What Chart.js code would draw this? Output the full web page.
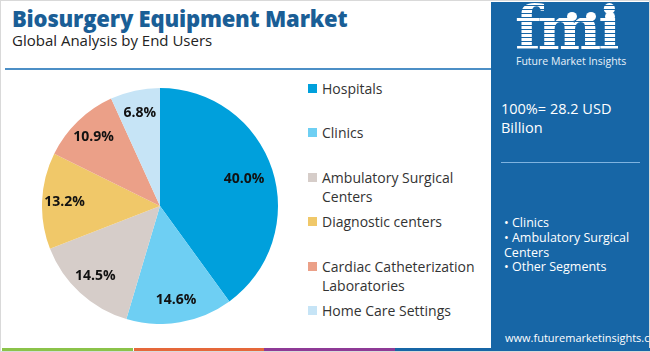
<!DOCTYPE html>
<html><head><meta charset="utf-8">
<script src="https://cdn.jsdelivr.net/npm/chart.js@4"></script>
<style>
html,body{margin:0;padding:0;background:#fff;}
body{width:650px;height:352px;position:relative;overflow:hidden;font-family:"Open Sans",sans-serif;}
#frame{position:absolute;left:0;top:0;width:648px;height:350px;border:1px solid #d9d9d9;}
#title{position:absolute;left:12px;top:3px;font-size:22px;font-weight:800;color:#1a5e96;letter-spacing:-0.2px;white-space:nowrap;}
#sub{position:absolute;left:12px;top:30px;font-size:15px;color:#222;white-space:nowrap;}
#hline{position:absolute;left:5px;top:68px;width:486px;height:2px;background:#4c8fc6;}
#chartwrap{position:absolute;left:42px;top:88px;width:236px;height:236px;}
#legend{position:absolute;left:308px;top:0;}
.li{position:absolute;left:0;white-space:nowrap;font-size:14px;color:#333;line-height:19px;}
.sw{position:absolute;left:0;top:5px;width:9px;height:9px;}
.lt{position:absolute;left:14px;top:0;}
#panel{position:absolute;left:491px;top:2px;width:158px;height:349px;background:#1766a6;color:#fff;}
#logo{position:absolute;left:24px;top:0px;font-family:"DejaVu Serif",serif;font-weight:bold;font-size:60px;line-height:52px;letter-spacing:-3px;
 background:repeating-linear-gradient(to bottom,#fff 0px,#fff 3px,#1766a6 3px,#1766a6 4px);-webkit-background-clip:text;background-clip:text;color:transparent;}
.dot{position:absolute;width:10px;height:9px;border-radius:50%;background:#fff;}
#fmitext{position:absolute;left:25px;top:52px;font-size:10.5px;color:#e8f1fa;white-space:nowrap;}
#total{position:absolute;left:10px;top:97px;font-size:14.5px;line-height:19px;white-space:nowrap;}
#pline{position:absolute;left:10px;top:160px;width:139px;height:1px;background:#7fb3e0;}
#bul{position:absolute;left:13px;top:214px;font-size:12.5px;line-height:14.8px;white-space:nowrap;}
#url{position:absolute;left:14px;top:328px;font-size:11px;white-space:nowrap;}
#strip{position:absolute;left:2px;top:348px;height:3px;width:648px;}
#strip div{position:absolute;top:0;height:3px;}
</style></head>
<body>
<div id="frame"></div>
<div id="title">Biosurgery Equipment Market</div>
<div id="sub">Global Analysis by End Users</div>
<div id="hline"></div>
<div id="chartwrap"><canvas id="c" width="236" height="236"></canvas></div>
<div id="legend"></div>
<div id="strip">
 <div style="left:0;width:131px;background:#8bc34a"></div>
 <div style="left:132px;width:130px;background:#e5683a"></div>
 <div style="left:262px;width:131px;background:#8e3a96"></div>
 <div style="left:393px;width:255px;background:#1766a6"></div>
</div>
<div id="panel">
 <div id="logo">fmi</div>
 <div class="dot" style="left:76px;top:10px"></div>
 <div class="dot" style="left:95px;top:10px"></div>
 <div class="dot" style="left:114px;top:10px"></div>
 <div id="fmitext">Future Market Insights</div>
 <div id="total">100%= 28.2 USD<br>Billion</div>
 <div id="pline"></div>
 <div id="bul">• Clinics<br>• Ambulatory Surgical<br>Centers<br>• Other Segments</div>
 <div id="url">www.futuremarketinsights.com</div>
</div>
<script>
const categories = ["Hospitals","Clinics","Ambulatory Surgical Centers","Diagnostic centers","Cardiac Catheterization Laboratories","Home Care Settings"];
const legendLines = [["Hospitals"],["Clinics"],["Ambulatory Surgical","Centers"],["Diagnostic centers"],["Cardiac Catheterization","Laboratories"],["Home Care Settings"]];
const shares = [40.0, 14.6, 14.5, 13.2, 10.9, 6.8];
const colors = ["#00a0dc","#6ecff3","#d6cdc9","#f0c869","#eba088","#c6e4f6"];

const legendTops = [79,123,168,212,257,301];
const lg = document.getElementById('legend');
categories.forEach((c,i)=>{
  const d=document.createElement('div'); d.className='li'; d.style.top=legendTops[i]+'px';
  d.innerHTML='<span class="sw" style="background:'+colors[i]+'"></span><span class="lt">'+legendLines[i].join('<br>')+'</span>';
  lg.appendChild(d);
});

const labelPlugin = {
  id:'pctLabels',
  afterDatasetsDraw(chart){
    const ctx=chart.ctx; const meta=chart.getDatasetMeta(0);
    ctx.save();
    ctx.font='bold 14px "Open Sans", sans-serif';
    ctx.fillStyle='#111'; ctx.textAlign='center'; ctx.textBaseline='middle';
    meta.data.forEach((arc,i)=>{
      const p=arc.getProps(['x','y','startAngle','endAngle','outerRadius'],true);
      const a=(p.startAngle+p.endAngle)/2; const r=p.outerRadius*(i===0?0.75:0.81);
      ctx.fillText(shares[i].toFixed(1)+'%', p.x+Math.cos(a)*r, p.y+Math.sin(a)*r);
    });
    ctx.restore();
  }
};

new Chart(document.getElementById('c'),{
  type:'pie',
  data:{labels:categories,datasets:[{data:shares,backgroundColor:colors,borderWidth:0}]},
  options:{responsive:false,animation:false,layout:{padding:0},
    plugins:{legend:{display:false},tooltip:{enabled:false}}},
  plugins:[labelPlugin]
});
</script>
</body></html>
